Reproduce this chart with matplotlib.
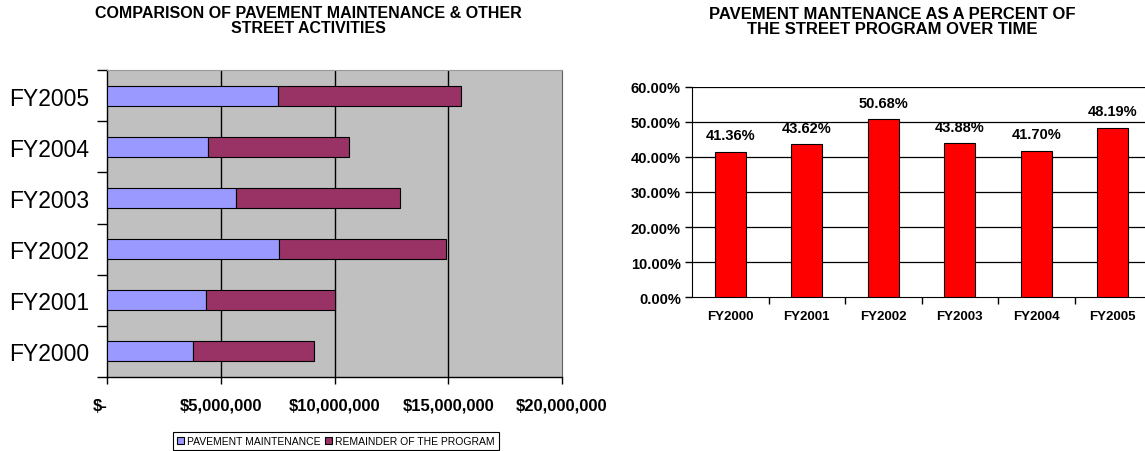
import matplotlib
matplotlib.use("Agg")
import matplotlib.pyplot as plt
from matplotlib.ticker import FuncFormatter, FixedLocator

plt.rcParams['font.family'] = ['Liberation Sans', 'DejaVu Sans']

years = ['FY2000', 'FY2001', 'FY2002', 'FY2003', 'FY2004', 'FY2005']
pavement = [3770000, 4360000, 7550000, 5660000, 4440000, 7500000]
remainder = [5350000, 5640000, 7340000, 7240000, 6210000, 8070000]
pct = [41.36, 43.62, 50.68, 43.88, 41.70, 48.19]
money_ticks = [0, 5000000, 10000000, 15000000, 20000000]
money_labels = ['$-', '$5,000,000', '$10,000,000', '$15,000,000', '$20,000,000']

W, H = 1145, 452
fig = plt.figure(figsize=(W / 100, H / 100), dpi=100)


def box(x0, y0, x1, y1):
    # pixel box -> figure fraction
    return [x0 / W, 1 - y1 / H, (x1 - x0) / W, (y1 - y0) / H]


# ---- left: stacked horizontal bars
ax = fig.add_axes(box(107, 71, 562, 378))
ax.set_facecolor('#C0C0C0')
pos = range(len(years))
b1 = ax.barh(pos, pavement, height=0.39, color='#9999FF', edgecolor='black', linewidth=0.8,
             label='PAVEMENT MAINTENANCE', zorder=3)
b2 = ax.barh(pos, remainder, left=pavement, height=0.39, color='#993366', edgecolor='black',
             linewidth=0.8, label='REMAINDER OF THE PROGRAM', zorder=3)
ax.set_xlim(0, 20000000)
ax.set_ylim(-0.5, 5.5)
ax.set_xticks(money_ticks)
ax.set_xticklabels(money_labels, fontsize=12, fontweight='bold')
ax.get_xticklabels()[0].set_ha('right')
for xv in money_ticks[1:-1]:
    ax.axvline(xv, color='black', linewidth=1, zorder=1)
ax.yaxis.set_major_locator(FixedLocator([i - 0.5 for i in range(7)]))
ax.yaxis.set_major_formatter(FuncFormatter(lambda v, p: ''))
ax.set_yticks(list(pos), minor=True)
ax.set_yticklabels(years, minor=True, fontsize=16.5)
ax.tick_params(axis='y', which='major', length=7, width=1, direction='out')
ax.tick_params(axis='y', which='minor', length=0, pad=13)
ax.tick_params(axis='x', length=5, width=1, direction='out', pad=10)
ax.spines['top'].set_color('#9A9A9A')
ax.spines['right'].set_color('#606060')
ax.spines['left'].set_linewidth(1)
ax.spines['bottom'].set_linewidth(1)

leg = ax.legend(handles=[b1, b2], loc='center', bbox_to_anchor=(336 / W, 1 - 442 / H),
                bbox_transform=fig.transFigure, ncol=2, fontsize=7.5, frameon=True,
                fancybox=False, edgecolor='black', framealpha=1, handlelength=0.7,
                handleheight=0.7, handletextpad=0.3, columnspacing=0.4, borderpad=0.4,
                borderaxespad=0)
leg.get_frame().set_linewidth(0.8)

fig.text(308 / W, 1 - 21 / H, 'COMPARISON OF PAVEMENT MAINTENANCE & OTHER\nSTREET ACTIVITIES',
         ha='center', va='center', fontsize=11.5, fontweight='bold', linespacing=1.05)

# ---- right: percent bars
ax2 = fig.add_axes(box(692, 87.7, 1151, 298.3))
ax2.bar(range(len(years)), pct, width=0.41, color='#FF0000', edgecolor='black', linewidth=0.8,
        zorder=3)
ax2.set_xlim(-0.5, 5.5)
ax2.set_ylim(0, 60)
ax2.set_yticks(range(0, 61, 10))
ax2.yaxis.set_major_formatter(FuncFormatter(lambda v, p: f'{v:.2f}%'))
for yv in range(10, 61, 10):
    ax2.axhline(yv, color='black', linewidth=0.9, zorder=1)
ax2.xaxis.set_major_locator(FixedLocator([i + 0.5 for i in range(5)]))
ax2.xaxis.set_major_formatter(FuncFormatter(lambda v, p: ''))
ax2.set_xticks(range(len(years)), minor=True)
ax2.set_xticklabels(years, minor=True, fontsize=9.5, fontweight='bold')
ax2.tick_params(axis='x', which='major', length=5, width=1, direction='out')
ax2.tick_params(axis='x', which='minor', length=0, pad=9.5)
ax2.tick_params(axis='y', length=5, width=1, direction='out', labelsize=10.5, pad=3)
for lab in ax2.get_yticklabels():
    lab.set_fontweight('bold')
for s in ('top', 'right'):
    ax2.spines[s].set_visible(False)
for i, v in enumerate(pct):
    ax2.annotate(f'{v:.2f}%', (i, v), xytext=(0, 12), textcoords='offset points',
                 ha='center', va='center', fontsize=10.5, fontweight='bold')

fig.text(892 / W, 1 - 22 / H, 'PAVEMENT MANTENANCE AS A PERCENT OF\nTHE STREET PROGRAM OVER TIME',
         ha='center', va='center', fontsize=12, fontweight='bold', linespacing=1.05)

fig.savefig('out.png', dpi=100)
